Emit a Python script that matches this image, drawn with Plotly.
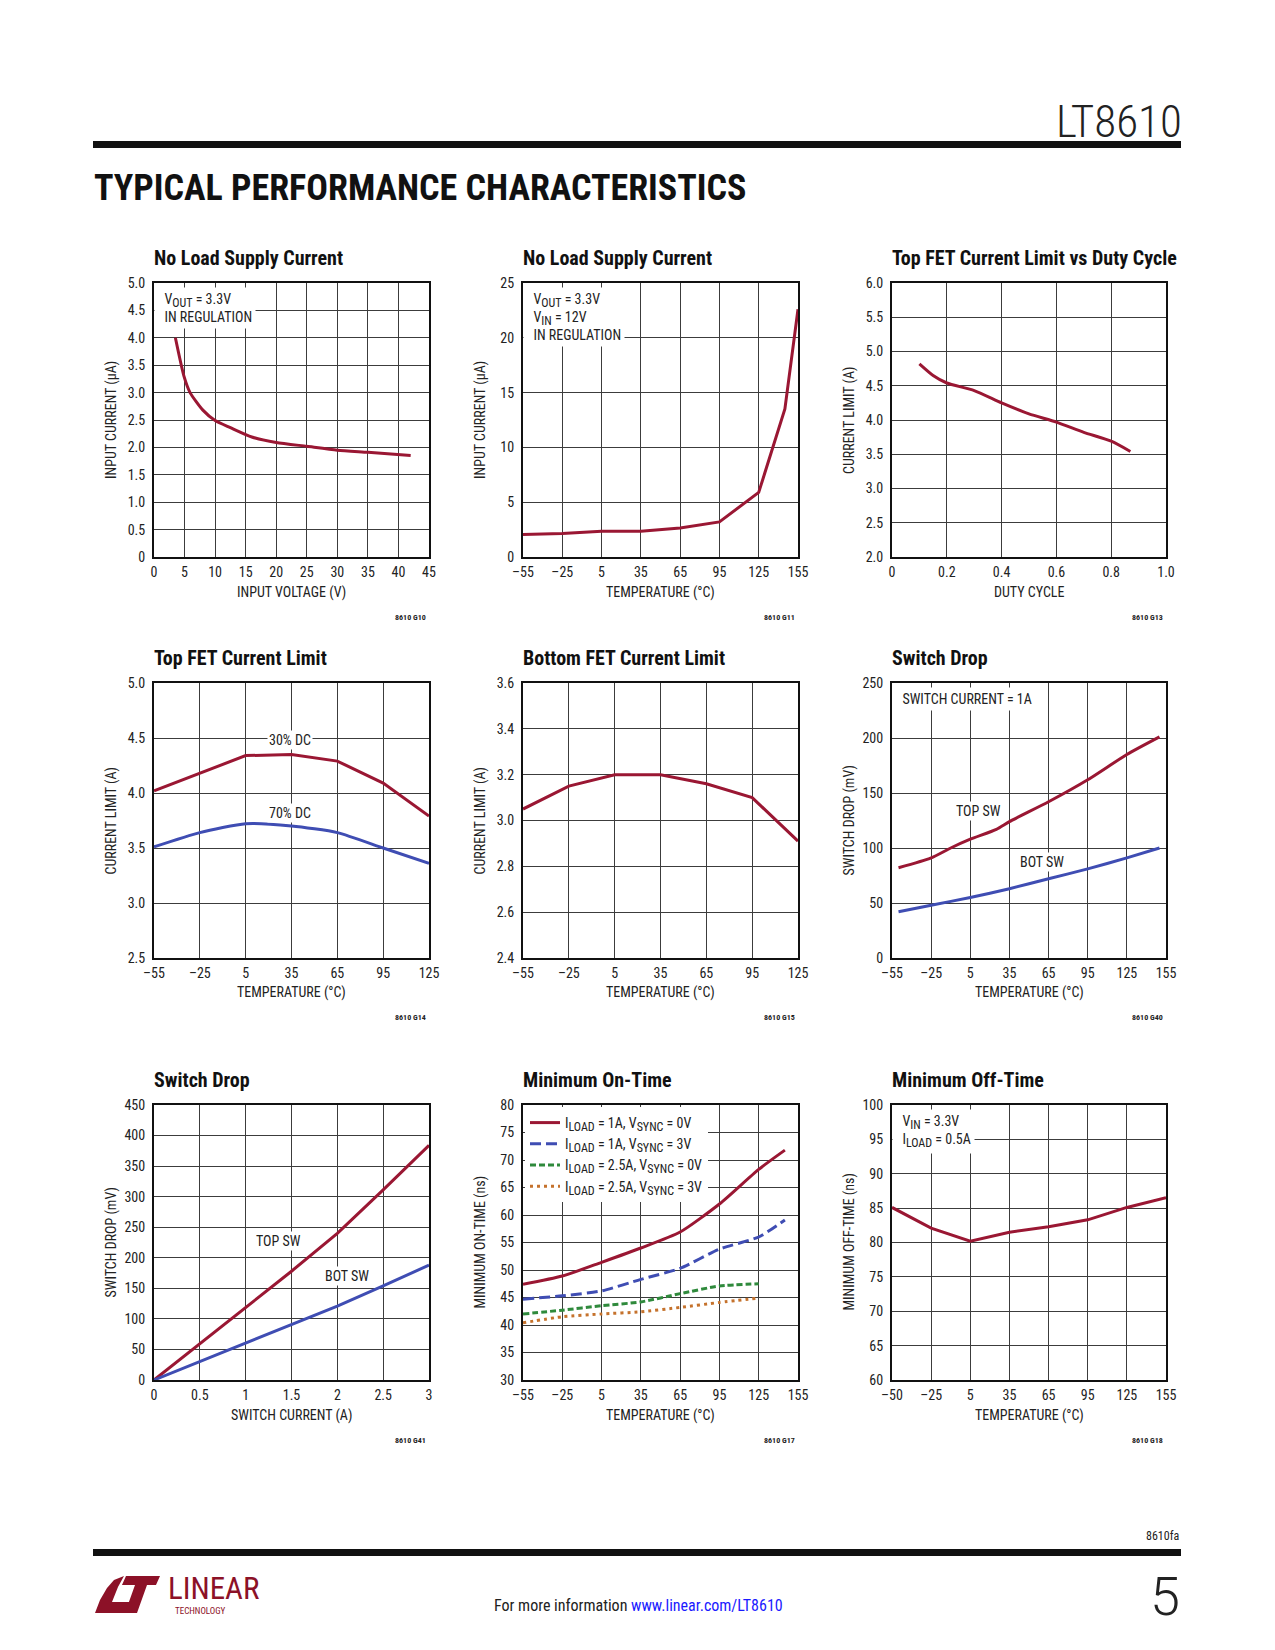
import plotly.graph_objects as go

# ---------------- data ----------------
g10_vin = [3.5, 4.9, 5.9, 8, 10, 12.5, 16, 20, 25, 30, 35, 42]
g10_iq = [4.0, 3.3, 3.0, 2.68, 2.49, 2.36, 2.19, 2.09, 2.02, 1.95, 1.91, 1.85]

g11_temp = [-55, -25, 5, 35, 65, 95, 125, 145, 155]
g11_iq = [2.05, 2.15, 2.35, 2.35, 2.65, 3.2, 5.9, 13.5, 22.6]

g13_dc = [0.1, 0.15, 0.2, 0.3, 0.4, 0.5, 0.6, 0.7, 0.8, 0.87]
g13_ilim = [4.82, 4.65, 4.54, 4.43, 4.25, 4.09, 3.97, 3.82, 3.69, 3.54]

g14_temp = [-55, -25, 5, 35, 65, 95, 125]
g14_dc30 = [4.02, 4.18, 4.34, 4.35, 4.29, 4.09, 3.79]
g14_dc70 = [3.51, 3.64, 3.72, 3.70, 3.64, 3.50, 3.36]

g15_temp = [-55, -25, 5, 35, 65, 95, 125]
g15_ilim = [3.05, 3.15, 3.20, 3.20, 3.16, 3.10, 2.91]

g40_temp_top = [-50, -25, -10, 5, 25, 35, 65, 95, 125, 150]
g40_top = [82, 91, 100, 108, 117, 124, 142, 162, 185, 201]
g40_temp_bot = [-50, -25, 5, 35, 65, 95, 125, 150]
g40_bot = [42, 48, 55, 63, 72, 81, 91, 100]

g41_isw = [0, 0.5, 1, 1.5, 2, 2.5, 3]
g41_top = [0, 59, 118, 178, 240, 311, 384]
g41_bot = [0, 30, 60, 90, 121, 154, 188]

g17_temp = [-55, -25, 5, 35, 65, 95, 125, 145]
g17_1a_0v = [47.4, 48.9, 51.4, 54.0, 56.9, 62.0, 68.3, 71.8]
g17_1a_3v = [44.7, 45.3, 46.2, 48.3, 50.3, 53.8, 56.0, 59.1]
g17_temp_short = [-55, -25, 5, 35, 65, 95, 125]
g17_25a_0v = [42.0, 42.7, 43.5, 44.2, 45.7, 47.1, 47.5]
g17_25a_3v = [40.4, 41.5, 42.0, 42.4, 43.2, 44.1, 44.9]

g18_temp = [-55, -25, 5, 35, 65, 95, 125, 155]
g18_toff = [85.1, 82.1, 80.2, 81.5, 82.3, 83.3, 85.1, 86.5]

# tick labels
temp_ticks_155 = [-55, -25, 5, 35, 65, 95, 125, 155]
temp_text_155 = ["–55", "–25", "5", "35", "65", "95", "125", "155"]
temp_text_g18 = ["–50", "–25", "5", "35", "65", "95", "125", "155"]
temp_ticks_125 = [-55, -25, 5, 35, 65, 95, 125]
temp_text_125 = ["–55", "–25", "5", "35", "65", "95", "125"]

# ---------------- style ----------------
W, H = 1275, 1650
OFF = 8  # default page margin of the html body
FONT = "Roboto Condensed, Liberation Sans Narrow, DejaVu Sans Condensed, sans-serif"
RED = "#9a1733"
BLUE = "#3f4db3"
GREEN = "#2f8a3c"
ORANGE = "#c5722c"
TXT = "#222222"


def px(x):
    return (x - OFF) / W


def py(y):
    return 1 - (y - OFF) / H


def sub(s):
    return "<sub><span style='font-size:12px'>%s</span></sub>" % s


COLS = [(154, 429), (523, 798), (892, 1166)]
ROWS = [(283, 557), (683, 958), (1105, 1380)]

fig = go.Figure()
annotations = []
shapes = []


def setup_axes(i, col, row, xr, xt, xtt, yr, yt, ytt):
    (x0, x1) = COLS[col]
    (y0, y1) = ROWS[row]
    sfx = "" if i == 1 else str(i)
    common = dict(showgrid=True, gridcolor="#3c3c3c", gridwidth=1, showline=True,
                  mirror=True, linecolor="#111111", linewidth=2, zeroline=False,
                  ticks="", tickfont=dict(family=FONT, size=14, color=TXT),
                  fixedrange=True, automargin=False)
    fig.layout["xaxis" + sfx] = dict(domain=[px(x0), px(x1)], range=xr, tickvals=xt,
                                     ticktext=xtt, anchor="y" + sfx, ticklabelstandoff=1, **common)
    fig.layout["yaxis" + sfx] = dict(domain=[py(y1), py(y0)], range=yr, tickvals=yt,
                                     ticktext=ytt, anchor="x" + sfx, ticklabelstandoff=4, **common)
    return "x" + sfx, "y" + sfx


def frame_text(col, row, title, xtitle, ytitle, gid):
    (x0, x1) = COLS[col]
    (y0, y1) = ROWS[row]
    annotations.append(dict(xref="paper", yref="paper", x=px(x0 - 2), y=py(y0 - 25),
                            xanchor="left", yanchor="middle", showarrow=False,
                            text=title, font=dict(family=FONT, size=20, color="#111111", weight="bold")))
    annotations.append(dict(xref="paper", yref="paper", x=px((x0 + x1) / 2), y=py(y1 + 35),
                            xanchor="center", yanchor="middle", showarrow=False,
                            text=xtitle, font=dict(family=FONT, size=14, color=TXT)))
    annotations.append(dict(xref="paper", yref="paper", x=px(x0 - 43), y=py((y0 + y1) / 2),
                            xanchor="center", yanchor="middle", showarrow=False, textangle=-90,
                            text=ytitle, font=dict(family=FONT, size=14, color=TXT)))
    annotations.append(dict(xref="paper", yref="paper", x=px(x1 - 1), y=py(y1 + 60),
                            xanchor="right", yanchor="middle", showarrow=False,
                            text=gid, font=dict(family=FONT, size=8, color=TXT, weight="bold")))


def box_text(xa, ya, x, y, text, xanchor="left", yanchor="top", pad=3):
    annotations.append(dict(xref=xa, yref=ya, x=x, y=y, xanchor=xanchor, yanchor=yanchor,
                            showarrow=False, text=text, align="left", bgcolor="white", borderpad=pad,
                            font=dict(family=FONT, size=14, color=TXT)))


def line(xa, ya, x, y, color, dash="solid", name=None, legend=False, shape="linear"):
    fig.add_trace(go.Scatter(x=x, y=y, xaxis=xa, yaxis=ya, mode="lines", name=name,
                             showlegend=legend,
                             line=dict(color=color, width=3, dash=dash, shape=shape,
                                       smoothing=0.6 if shape == "spline" else None),
                             hoverinfo="skip"))


# ---- G10 ----
xa, ya = setup_axes(1, 0, 0, [0, 45], list(range(0, 46, 5)), [str(v) for v in range(0, 46, 5)],
                    [0, 5], [i * 0.5 for i in range(11)],
                    ["0"] + ["%.1f" % (i * 0.5) for i in range(1, 11)])
line(xa, ya, g10_vin, g10_iq, RED, shape="spline")
frame_text(0, 0, "No Load Supply Current", "INPUT VOLTAGE (V)", "INPUT CURRENT (μA)", "8610 G10")
box_text("x domain", "y domain", 0.0, 0.985, "  V" + sub("OUT") + " = 3.3V<br>  IN REGULATION")

# ---- G11 ----
xa, ya = setup_axes(2, 1, 0, [-55, 155], temp_ticks_155, temp_text_155,
                    [0, 25], list(range(0, 26, 5)), [str(v) for v in range(0, 26, 5)])
line(xa, ya, g11_temp, g11_iq, RED)
frame_text(1, 0, "No Load Supply Current", "TEMPERATURE (°C)", "INPUT CURRENT (μA)", "8610 G11")
box_text("x2 domain", "y2 domain", 0.0, 0.985,
         "  V" + sub("OUT") + " = 3.3V<br>  V" + sub("IN") + " = 12V<br>  IN REGULATION")

# ---- G13 ----
xa, ya = setup_axes(3, 2, 0, [0, 1], [0, 0.2, 0.4, 0.6, 0.8, 1.0], ["0", "0.2", "0.4", "0.6", "0.8", "1.0"],
                    [2, 6], [2 + i * 0.5 for i in range(9)], ["%.1f" % (2 + i * 0.5) for i in range(9)])
line(xa, ya, g13_dc, g13_ilim, RED, shape="spline")
frame_text(2, 0, "Top FET Current Limit vs Duty Cycle", "DUTY CYCLE", "CURRENT LIMIT (A)", "8610 G13")

# ---- G14 ----
xa, ya = setup_axes(4, 0, 1, [-55, 125], temp_ticks_125, temp_text_125,
                    [2.5, 5.0], [2.5 + i * 0.5 for i in range(6)], ["%.1f" % (2.5 + i * 0.5) for i in range(6)])
line(xa, ya, g14_temp, g14_dc30, RED)
line(xa, ya, g14_temp, g14_dc70, BLUE, shape="spline")
frame_text(0, 1, "Top FET Current Limit", "TEMPERATURE (°C)", "CURRENT LIMIT (A)", "8610 G14")
box_text(xa, ya, 34, 4.48, "30% DC", xanchor="center", yanchor="middle", pad=1)
box_text(xa, ya, 34, 3.82, "70% DC", xanchor="center", yanchor="middle", pad=1)

# ---- G15 ----
xa, ya = setup_axes(5, 1, 1, [-55, 125], temp_ticks_125, temp_text_125,
                    [2.4, 3.6], [2.4 + i * 0.2 for i in range(7)], ["%.1f" % (2.4 + i * 0.2) for i in range(7)])
line(xa, ya, g15_temp, g15_ilim, RED)
frame_text(1, 1, "Bottom FET Current Limit", "TEMPERATURE (°C)", "CURRENT LIMIT (A)", "8610 G15")

# ---- G40 ----
xa, ya = setup_axes(6, 2, 1, [-55, 155], temp_ticks_155, temp_text_155,
                    [0, 250], list(range(0, 251, 50)), [str(v) for v in range(0, 251, 50)])
line(xa, ya, g40_temp_top, g40_top, RED, shape="spline")
line(xa, ya, g40_temp_bot, g40_bot, BLUE, shape="spline")
frame_text(2, 1, "Switch Drop", "TEMPERATURE (°C)", "SWITCH DROP (mV)", "8610 G40")
box_text("x6 domain", "y6 domain", 0.0, 0.985, "  SWITCH CURRENT = 1A")
box_text(xa, ya, 11, 134, "TOP SW", xanchor="center", yanchor="middle", pad=1)
box_text(xa, ya, 60, 87, "BOT SW", xanchor="center", yanchor="middle", pad=1)

# ---- G41 ----
xa, ya = setup_axes(7, 0, 2, [0, 3], [0, 0.5, 1, 1.5, 2, 2.5, 3], ["0", "0.5", "1", "1.5", "2", "2.5", "3"],
                    [0, 450], list(range(0, 451, 50)), [str(v) for v in range(0, 451, 50)])
line(xa, ya, g41_isw, g41_top, RED)
line(xa, ya, g41_isw, g41_bot, BLUE)
frame_text(0, 2, "Switch Drop", "SWITCH CURRENT (A)", "SWITCH DROP (mV)", "8610 G41")
box_text(xa, ya, 1.36, 227, "TOP SW", xanchor="center", yanchor="middle", pad=1)
box_text(xa, ya, 2.11, 171, "BOT SW", xanchor="center", yanchor="middle", pad=1)

# ---- G17 ----
xa, ya = setup_axes(8, 1, 2, [-55, 155], temp_ticks_155, temp_text_155,
                    [30, 80], list(range(30, 81, 5)), [str(v) for v in range(30, 81, 5)])
line(xa, ya, g17_temp, g17_1a_0v, RED, "solid",
     "I" + sub("LOAD") + " = 1A, V" + sub("SYNC") + " = 0V", True, "spline")
line(xa, ya, g17_temp, g17_1a_3v, BLUE, "11px,5px",
     "I" + sub("LOAD") + " = 1A, V" + sub("SYNC") + " = 3V", True, "spline")
line(xa, ya, g17_temp_short, g17_25a_0v, GREEN, "6px,3px",
     "I" + sub("LOAD") + " = 2.5A, V" + sub("SYNC") + " = 0V", True, "spline")
line(xa, ya, g17_temp_short, g17_25a_3v, ORANGE, "3px,4px",
     "I" + sub("LOAD") + " = 2.5A, V" + sub("SYNC") + " = 3V", True, "spline")
frame_text(1, 2, "Minimum On-Time", "TEMPERATURE (°C)", "MINIMUM ON-TIME (ns)", "8610 G17")

# ---- G18 ----
xa, ya = setup_axes(9, 2, 2, [-55, 155], temp_ticks_155, temp_text_g18,
                    [60, 100], list(range(60, 101, 5)), [str(v) for v in range(60, 101, 5)])
line(xa, ya, g18_temp, g18_toff, RED)
frame_text(2, 2, "Minimum Off-Time", "TEMPERATURE (°C)", "MINIMUM OFF-TIME (ns)", "8610 G18")
box_text("x9 domain", "y9 domain", 0.0, 0.985, "  V" + sub("IN") + " = 3.3V<br>  I" + sub("LOAD") + " = 0.5A")

# ---------------- page furniture ----------------
annotations.append(dict(xref="paper", yref="paper", x=px(1184), y=py(121), xanchor="right",
                        yanchor="middle", showarrow=False, text="LT8610",
                        font=dict(family=FONT, size=45, color="#222222", weight=300)))
shapes.append(dict(type="rect", xref="paper", yref="paper", x0=px(93), x1=px(1181),
                   y0=py(148), y1=py(141), fillcolor="#111111", line=dict(width=0)))
annotations.append(dict(xref="paper", yref="paper", x=px(92), y=py(188), xanchor="left",
                        yanchor="middle", showarrow=False, text="TYPICAL PERFORMANCE CHARACTERISTICS",
                        font=dict(family=FONT, size=36, color="#111111", weight="bold")))

shapes.append(dict(type="rect", xref="paper", yref="paper", x0=px(93), x1=px(1181),
                   y0=py(1556), y1=py(1549), fillcolor="#111111", line=dict(width=0)))
annotations.append(dict(xref="paper", yref="paper", x=px(1181), y=py(1536), xanchor="right",
                        yanchor="middle", showarrow=False, text="8610fa",
                        font=dict(family=FONT, size=12, color=TXT)))
annotations.append(dict(xref="paper", yref="paper", x=px(1182), y=py(1596), xanchor="right",
                        yanchor="middle", showarrow=False, text="5",
                        font=dict(family="Roboto, Liberation Sans, sans-serif", size=54,
                                  color="#222222", weight=300)))
annotations.append(dict(xref="paper", yref="paper", x=px(638), y=py(1605), xanchor="center",
                        yanchor="middle", showarrow=False,
                        text="For more information <span style='color:#1a1aff'>www.linear.com/LT8610</span>",
                        font=dict(family=FONT, size=16, color=TXT)))


def path(points):
    s = "M " + " L ".join("%.5f,%.5f" % (px(a), py(b)) for a, b in points) + " Z"
    return s


LOGO = "#8c1127"
shapes.append(dict(type="path", xref="paper", yref="paper", fillcolor=LOGO, line=dict(width=0),
                   path=path([(95, 1613), (100, 1600), (107, 1588), (114, 1580), (124, 1576),
                              (118, 1587), (112, 1602), (131, 1602), (127, 1613)])))
shapes.append(dict(type="path", xref="paper", yref="paper", fillcolor=LOGO, line=dict(width=0),
                   path=path([(126, 1576), (160, 1576), (156, 1585), (147, 1585), (137, 1613),
                              (125, 1613), (135, 1585), (122, 1585)])))
annotations.append(dict(xref="paper", yref="paper", x=px(166), y=py(1588), xanchor="left",
                        yanchor="middle", showarrow=False, text="LINEAR",
                        font=dict(family=FONT, size=31, color=LOGO, weight=400)))
annotations.append(dict(xref="paper", yref="paper", x=px(173), y=py(1611), xanchor="left",
                        yanchor="middle", showarrow=False, text="TECHNOLOGY",
                        font=dict(family=FONT, size=9, color=LOGO)))

fig.update_layout(
    width=W, height=H, margin=dict(l=0, r=0, t=0, b=0, autoexpand=False),
    paper_bgcolor="white", plot_bgcolor="white",
    annotations=annotations, shapes=shapes,
    showlegend=True,
    legend=dict(x=px(525), y=py(1107), xanchor="left", yanchor="top", bgcolor="white",
                font=dict(family=FONT, size=14, color=TXT), tracegroupgap=0,
                itemwidth=30, borderwidth=0),
    font=dict(family=FONT, color=TXT),
)

fig.write_html("out.html")
